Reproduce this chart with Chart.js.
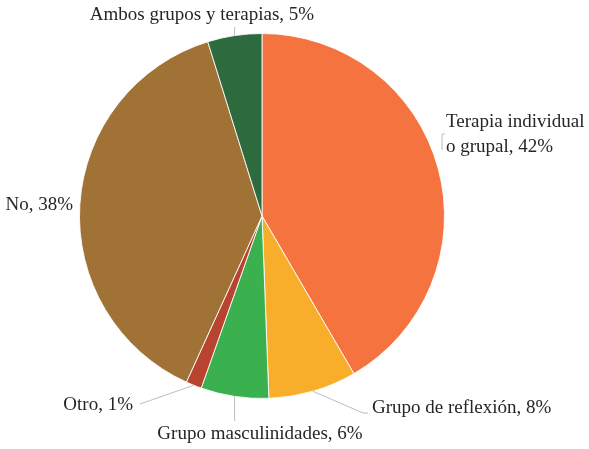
<!DOCTYPE html>
<html>
<head>
<meta charset="utf-8">
<script src="https://cdn.jsdelivr.net/npm/chart.js@4/dist/chart.umd.min.js"></script>
<style>
  html, body { margin: 0; padding: 0; background: #fff; }
  #wrap { width: 589px; height: 449px; }
</style>
</head>
<body>
<div id="wrap"><canvas id="pie" width="589" height="449"></canvas></div>
<script>
// slice data, clockwise from 12 o'clock
const categories = ['Terapia individual o grupal', 'Grupo de reflexión', 'Grupo masculinidades', 'Otro', 'No', 'Ambos grupos y terapias'];
const shares = [41.6, 7.8, 6.0, 1.4, 38.4, 4.8];
const colors = ['#F4733F', '#F9AE2B', '#3AB04E', '#B8432E', '#A07235', '#2D6A3D'];

// label placement, offsets from the pie centre
const labelSpots = [
    { lines: ['Terapia individual', 'o grupal, {p}'], dx: 184, dy: -94, align: 'left', leader: [[180, -82], [180, -66]], tick: true },
    { lines: ['{c}, {p}'], dx: 110, dy: 192, align: 'left', leader: ['arc', [101, 197], [106, 197]] },
    { lines: ['{c}, {p}'], dx: -2, dy: 218, align: 'center', leader: ['arc', [null, 205]] },
    { lines: ['{c}, {p}'], dx: -129, dy: 189, align: 'right', leader: ['arc', [-122, 188]] },
    { lines: ['{c}, {p}'], dx: -189, dy: -11, align: 'right', leader: null },
    { lines: ['{c}, {p}'], dx: -60, dy: -201, align: 'center', leader: ['arc', [null, -189]] }
];

const pieLabels = {
    id: 'pieLabels',
    afterDraw(chart) {
        const ctx = chart.ctx;
        const meta = chart.getDatasetMeta(0);
        ctx.save();
        ctx.font = '19px "Liberation Serif", "Times New Roman", serif';
        ctx.fillStyle = '#262626';
        ctx.textBaseline = 'middle';
        ctx.strokeStyle = '#BDBDBD';
        ctx.lineWidth = 1;
        meta.data.forEach((arc, i) => {
            const spot = labelSpots[i];
            const cx = arc.x, cy = arc.y;
            if (spot.leader) {
                let px = null, py = null;
                ctx.beginPath();
                spot.leader.forEach((p, k) => {
                    let x, y;
                    if (p === 'arc') {
                        const mid = (arc.startAngle + arc.endAngle) / 2;
                        x = cx + Math.cos(mid) * arc.outerRadius;
                        y = cy + Math.sin(mid) * arc.outerRadius;
                    } else {
                        x = p[0] === null ? px : cx + p[0];
                        y = cy + p[1];
                    }
                    if (k === 0) ctx.moveTo(x, y); else ctx.lineTo(x, y);
                    px = x; py = y;
                });
                if (spot.tick) {
                    ctx.moveTo(cx + spot.leader[0][0], cy + spot.leader[0][1]);
                    ctx.lineTo(cx + spot.leader[0][0] + 3, cy + spot.leader[0][1]);
                }
                ctx.stroke();
            }
            ctx.textAlign = spot.align;
            const pct = Math.round(shares[i]) + '%';
            spot.lines.forEach((ln, k) => {
                const txt = ln.replace('{c}', categories[i]).replace('{p}', pct);
                ctx.fillText(txt, cx + spot.dx, cy + spot.dy + k * 25);
            });
        });
        ctx.restore();
    }
};

new Chart(document.getElementById('pie'), {
    type: 'pie',
    data: {
        labels: categories,
        datasets: [{
            data: shares,
            backgroundColor: colors,
            borderColor: 'rgba(255,255,255,0.85)',
            borderWidth: 1
        }]
    },
    options: {
        responsive: false,
        animation: false,
        layout: { padding: { top: 33, bottom: 50, left: 79, right: 144 } },
        plugins: {
            legend: { display: false },
            tooltip: { enabled: false }
        }
    },
    plugins: [pieLabels]
});
</script>
</body>
</html>
